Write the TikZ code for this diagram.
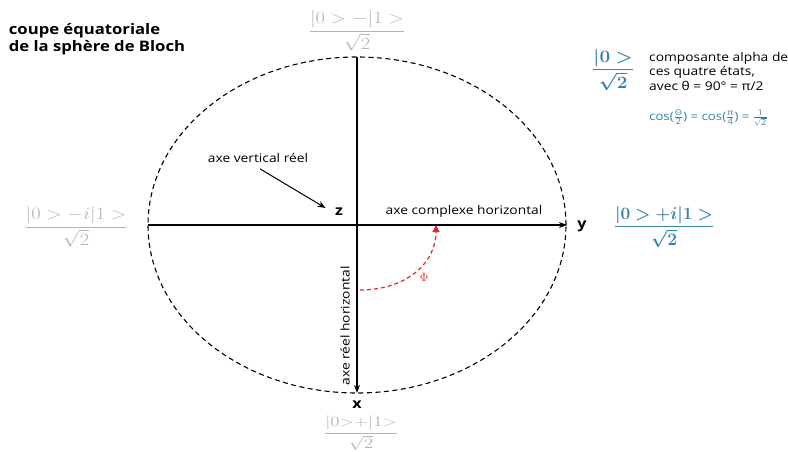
\documentclass[tikz,border=0pt]{standalone}
\usepackage{fontspec}
\setmainfont{Open Sans}[FakeStretch=1.15]
\usepackage{amsmath}
\usepackage{bm}
\usepackage{graphicx}
\usepackage{tikz}
\usetikzlibrary{positioning,arrows.meta}
\definecolor{blochgrey}{HTML}{B4B4B4}
\definecolor{blochblue}{HTML}{3580AE}
\definecolor{blochred}{HTML}{E0282D}
\newcommand{\widemath}[1]{\scalebox{1.18}[1]{#1}}

\begin{document}
\begin{tikzpicture}[x=1pt, y=-1pt]
    \tikzstyle{axis}=[draw=black, line width=1.4pt]
    \tikzstyle{axistip}=[-{Stealth[length=8pt, width=6pt]}]
    \tikzstyle{rim}=[draw=black, line width=1.1pt, dash pattern=on 5pt off 3.5pt]
    \tikzstyle{axname}=[font=\fontsize{14}{14}\selectfont\bfseries]
    \tikzstyle{note}=[font=\fontsize{12}{14.5}\selectfont, inner sep=1pt]
    \tikzstyle{state}=[inner sep=0pt, text=blochgrey, font=\fontsize{17}{17}\selectfont]
    \tikzstyle{phiarc}=[draw=blochred, line width=1.2pt, dash pattern=on 4pt off 3pt,
                        -{Triangle[length=7pt, width=7pt]}]

    \useasboundingbox (0,0) rectangle (788,452);

    % axes and equator
    \coordinate (O) at (357,225);
    \coordinate (N) at (357,57);
    \coordinate (S) at (357,393);
    \coordinate (W) at (148,225);
    \coordinate (E) at (567,225);
    \draw[rim] (O) ellipse [x radius=209pt, y radius=168pt];
    \draw[axis, axistip] (N) -- (S);
    \draw[axis, axistip] (W) -- (E);

    % title
    \node[align=left, font=\fontsize{14.5}{17.5}\selectfont\bfseries] (title) at (97,39)
         {coupe équatoriale\\de la sphère de Bloch};

    % states on the circle
    \node[state] (top) at (357,31) {\widemath{$\dfrac{|0>-|1>}{\sqrt{2}}$}};
    \node[state] (left) at (76,227) {\widemath{$\dfrac{|0>-i|1>}{\sqrt{2}}$}};
    \node[state, text=blochblue] (right) at (664,227)
         {$\dfrac{\bm{|0>+i|1>}}{\bm{\sqrt{2}}}$};
    \node[state, font=\fontsize{15}{15}\selectfont] (bottom) at (361,433)
         {\scalebox{1.3}[1]{$\dfrac{|0{>}{+}|1{>}}{\sqrt{2}}$}};

    % axis names
    \node[axname] (z) at (339,212) {z};
    \node[axname] (y) at (582,226) {y};
    \node[axname] (x) at (357,405) {x};
    \node[note] (vlabel) at (258,158) {axe vertical réel};
    \node[note] (hlabel) at (464,211) {axe complexe horizontal};
    \node[note, rotate=90] (rlabel) at (345,326) {axe réel horizontal};
    \draw[line width=1pt, -{Stealth[length=8pt, width=6pt]}]
         ([xshift=2pt, yshift=-5pt]vlabel.south) -- ([xshift=-6pt, yshift=4pt]z.west);

    % angle phi
    \coordinate (phiA) at (360,290);
    \coordinate (phiB) at (436,225);
    \draw[phiarc] (phiA) .. controls (405,290) and (436,264) .. (phiB);
    \node[text=blochred, font=\fontsize{13}{13}\selectfont] (phi) at (424,277) {$\Phi$};

    % alpha component
    \node[state, text=blochblue] (alpha) at (613,70)
         {\scalebox{1.1}[1]{$\dfrac{\bm{|0>}}{\bm{\sqrt{2}}}$}};
    \node[note, align=left, anchor=north west] (comment) at (648,51)
         {composante alpha de\\ces quatre états,\\avec θ = 90° = π/2};
    \node[note, anchor=west, text=blochblue, font=\fontsize{11.5}{13}\selectfont] (cosine)
         at (648,118)
         {cos($\frac{\text{Θ}}{\text{2}}$) = cos($\frac{\text{π}}{\text{4}}$) = $\frac{\text{1}}{\sqrt{\text{2}}}$};
\end{tikzpicture}
\end{document}
